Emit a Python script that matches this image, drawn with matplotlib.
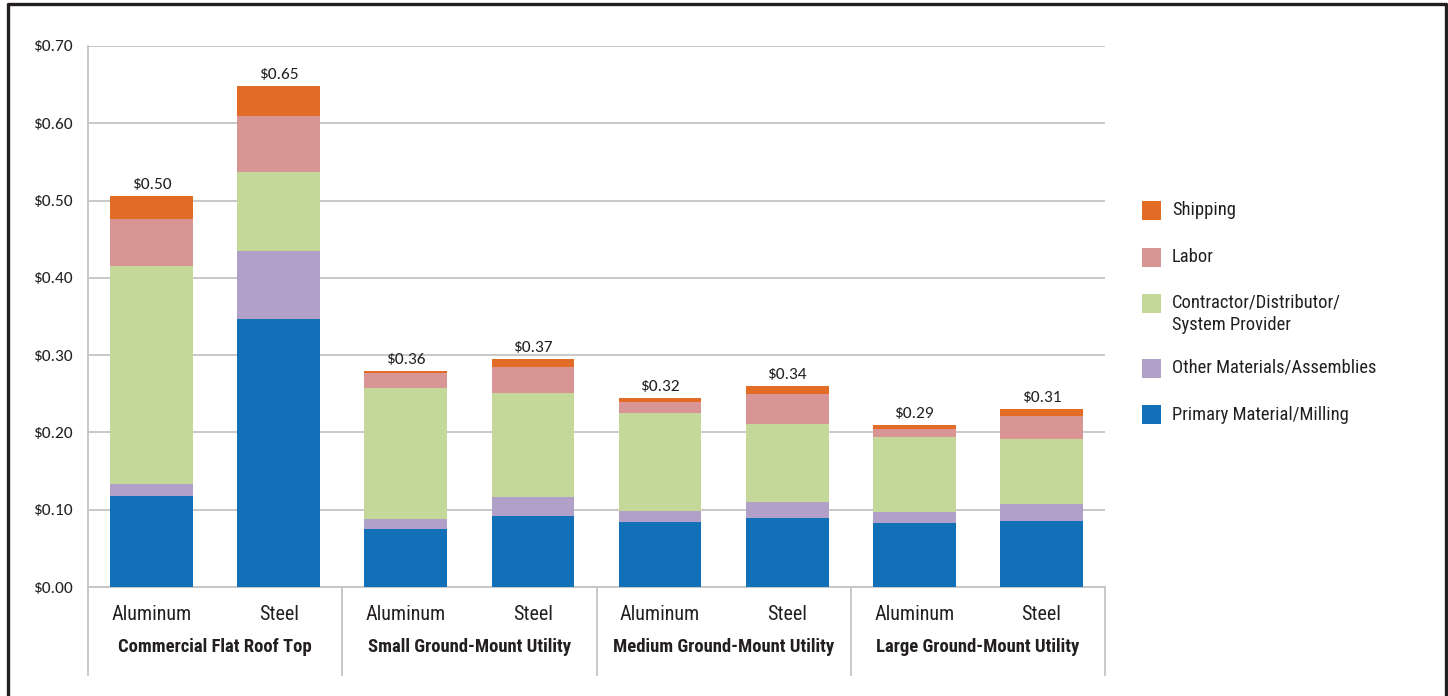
import matplotlib

matplotlib.use("Agg")
import matplotlib.pyplot as plt
from matplotlib import font_manager
from matplotlib.patches import Rectangle

# ---- data ----
groups = ["Commercial Flat Roof Top", "Small Ground-Mount Utility",
          "Medium Ground-Mount Utility", "Large Ground-Mount Utility"]
materials = ["Aluminum", "Steel"]

primary = [0.118, 0.347, 0.075, 0.092, 0.0845, 0.089, 0.0825, 0.086]
other = [0.0155, 0.088, 0.0125, 0.0245, 0.0135, 0.021, 0.014, 0.0215]
contractor = [0.282, 0.1025, 0.1705, 0.135, 0.127, 0.1015, 0.097, 0.084]
labor = [0.0605, 0.072, 0.0185, 0.0335, 0.015, 0.0385, 0.011, 0.0295]
shipping = [0.030, 0.039, 0.003, 0.010, 0.004, 0.0095, 0.0045, 0.0095]

total_labels = ["$0.50", "$0.65", "$0.36", "$0.37", "$0.32", "$0.34", "$0.29", "$0.31"]
y_ticks = [0.0, 0.1, 0.2, 0.3, 0.4, 0.5, 0.6, 0.7]

series = [
    ("Primary Material/Milling", primary, "#1170b8"),
    ("Other Materials/Assemblies", other, "#b1a1c9"),
    ("Contractor/Distributor/\nSystem Provider", contractor, "#c4d89a"),
    ("Labor", labor, "#d99593"),
    ("Shipping", shipping, "#e26b25"),
]


def pick_font(candidates):
    names = {f.name for f in font_manager.fontManager.ttflist}
    for name in candidates:
        if name in names:
            return name
    return "DejaVu Sans"


narrow = pick_font(["Liberation Sans Narrow", "Roboto Condensed", "Liberation Sans"])
numfont = pick_font(["Carlito", "Lato", "Open Sans"])
text_color = "#231f20"
grid_color = "#c4c4c4"

fig = plt.figure(figsize=(14.48, 6.96), dpi=100)
ax = fig.add_axes([88 / 1448, 1 - 587 / 696, (1105 - 88) / 1448, (587 - 46) / 696])

n = len(primary)
x = list(range(n))
bottom = [0.0] * n
for label, values, color in series:
    ax.bar(x, values, width=0.65, bottom=bottom, color=color, label=label, zorder=3)
    bottom = [b + v for b, v in zip(bottom, values)]

for xi, top, text in zip(x, bottom, total_labels):
    ax.annotate(text, (xi, top), xytext=(0, 3), textcoords="offset points",
                ha="center", va="bottom", fontsize=12.5, family=numfont, color=text_color)

ax.set_xlim(-0.5, n - 0.5)
ax.set_ylim(0, 0.70)
ax.set_yticks(y_ticks)
ax.set_yticklabels([f"${v:.2f}" for v in y_ticks], family=numfont, fontsize=12.5, color=text_color)
ax.tick_params(axis="y", length=0, pad=11)
ax.set_xticks([])
ax.yaxis.grid(True, color=grid_color, linewidth=1.3, zorder=0)
for side in ["top", "right"]:
    ax.spines[side].set_visible(False)
for side in ["left", "bottom"]:
    ax.spines[side].set_color(grid_color)
    ax.spines[side].set_linewidth(1.3)

# category axis: material labels, group labels and separators
xt = ax.get_xaxis_transform()
for xi in x:
    ax.text(xi, -0.05, materials[xi % 2], transform=xt, ha="center", va="center",
            fontsize=14.5, family=narrow, color=text_color)
for gi, name in enumerate(groups):
    ax.text(2 * gi + 0.5, -0.111, name, transform=xt, ha="center", va="center",
            fontsize=13.4, family=narrow, weight="bold", color=text_color)
for gi in range(len(groups) + 1):
    ax.plot([2 * gi - 0.5, 2 * gi - 0.5], [0, -0.163], transform=xt, color=grid_color,
            linewidth=1.3, clip_on=False)

# legend drawn by hand so the swatch sits at the first line of each label
legend_rows = [(1 - 210 / 696), (1 - 257 / 696), (1 - 303 / 696), (1 - 368 / 696), (1 - 415 / 696)]
for (label, _, color), yrow in zip(reversed(series), legend_rows):
    fig.patches.append(Rectangle((1142 / 1448, yrow - 9.5 / 696), 19 / 1448, 19 / 696,
                                 transform=fig.transFigure, facecolor=color, edgecolor="none"))
    fig.text(1172 / 1448, yrow + 9 / 696, label, ha="left", va="top", fontsize=13.3,
             family=narrow, color=text_color, linespacing=1.3)

# outer frame (left, top, right)
fig.add_artist(plt.Line2D([8 / 1448, 8 / 1448, 1445.5 / 1448, 1445.5 / 1448],
                          [0, 1 - 4 / 696, 1 - 4 / 696, 0], transform=fig.transFigure,
                          color=text_color, linewidth=2.4))

fig.savefig("out.png", dpi=100, facecolor="white")
